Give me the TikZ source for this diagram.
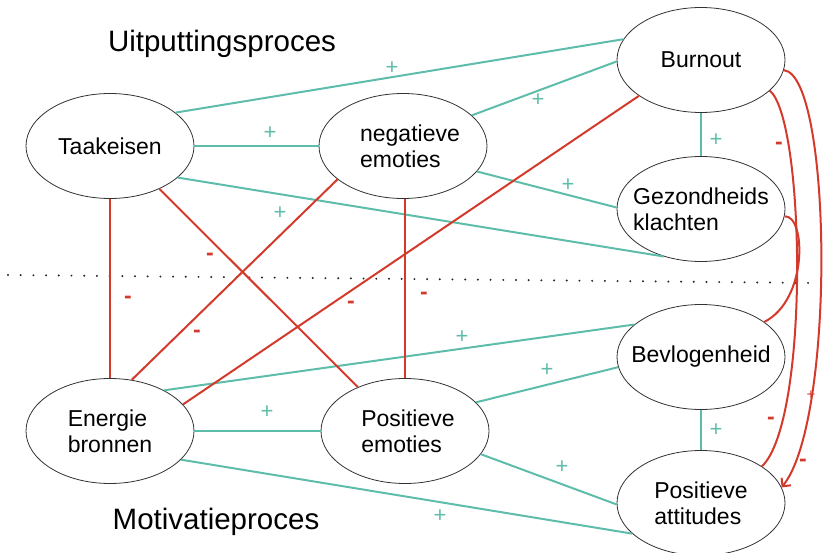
\documentclass[tikz,border=0pt]{standalone}
\usepackage{fontspec}
\setmainfont{Liberation Sans}
\usetikzlibrary{shapes.geometric,arrows.meta}
\definecolor{posgreen}{RGB}{93,189,170}
\definecolor{negred}{RGB}{211,58,44}
\tikzset{>=latex}
\tikzset{factor/.style={ellipse, draw=black!80, line width=0.8pt, minimum width=168pt, minimum height=105pt, inner xsep=-25pt, inner ysep=0pt, align=left, font=\fontsize{23}{26}\selectfont}}
\tikzset{posline/.style={draw=posgreen, line width=2pt}}
\tikzset{negline/.style={draw=negred, line width=2pt}}
\tikzset{poslab/.style={text=posgreen, inner sep=0pt, font=\fontsize{22}{22}\selectfont}}
\tikzset{neglab/.style={text=negred, inner sep=0pt, font=\bfseries\fontsize{23}{23}\selectfont}}
\tikzset{title/.style={inner sep=0pt, font=\fontsize{29.5}{32}\selectfont}}

\begin{document}
\begin{tikzpicture}[x=1pt,y=-1pt]
      \useasboundingbox (0,0) rectangle (824,553);
      % dividing line
      \coordinate (d1) at (8,275);
      \coordinate (d2) at (815,283);
      \draw[black!85, line width=2.2pt, line cap=round, dash pattern=on 0pt off 12.7pt] (d1) -- (d2);
      \node[title] (up) at (222,44) {Uitputtingsproces};
      \node[title] (mp) at (216,522) {Motivatieproces};
      \node[factor] (tk) at (110,146) {Taakeisen};
      \node[factor] (ne) at (403,146) {\hspace*{14pt}negatieve\\\hspace*{14pt}emoties};
      \node[factor] (bo) at (701,60) {Burnout};
      \node[factor] (gk) at (701,209) {Gezondheids\\klachten};
      \node[factor] (bv) at (701,357) {Bevlogenheid};
      \node[factor] (pa) at (701,503) {Positieve\\attitudes};
      \node[factor] (eb) at (110,431) {Energie\\bronnen};
      \node[factor] (pe) at (405,431) {\hspace*{6pt}Positieve\\\hspace*{6pt}emoties};
      % positive paths
      \draw[posline] (tk.27) -- (bo.165);
      \draw[posline] (tk.0) -- (ne.180);
      \draw[posline] (tk.-25) -- (gk.232);
      \draw[posline] (ne.24) -- (bo.181);
      \draw[posline] (ne.-19) -- (gk.179);
      \draw[posline] (bo) -- (gk);
      \draw[posline] (eb.37) -- (bv.154);
      \draw[posline] (pe.22) -- (bv.187);
      \draw[posline] (eb.0) -- (pe.180);
      \draw[posline] (bv) -- (pa);
      \draw[posline] (pe.-17) -- (pa.181);
      \draw[posline] (eb.-22) -- (pa.204);
      % negative paths
      \node[neglab, font=\fontsize{15}{15}\selectfont] (n0) at (811,395) {+};
      \draw[negline] (tk) -- (eb);
      \draw[negline] (tk.-41) -- (pe.137);
      \draw[negline] (ne.207) -- (eb.67);
      \draw[negline] (ne.south -| pe) -- (pe);
      \draw[negline] (bo.210) -- (eb.20);
      \draw[negline, -{Straight Barb[length=6pt]}] (bo.-7) .. controls (832,75) and (836,420) .. (pa.11);
      \draw[negline] (bo.-24) .. controls (805,120) and (810,420) .. (pa.31);
      \draw[negline] (gk.-5) .. controls (806,215) and (808,300) .. (bv.29);
      % signs
      \node[poslab] (p1) at (392,68) {+};
      \node[poslab] (p2) at (270,133) {+};
      \node[poslab] (p3) at (280,213) {+};
      \node[poslab] (p4) at (538,100) {+};
      \node[poslab] (p5) at (568,185) {+};
      \node[poslab] (p6) at (716,140) {+};
      \node[poslab] (p7) at (462,337) {+};
      \node[poslab] (p8) at (547,370) {+};
      \node[poslab] (p9) at (267,412) {+};
      \node[poslab] (p10) at (716,430) {+};
      \node[poslab] (p11) at (562,467) {+};
      \node[poslab] (p12) at (440,516) {+};
      \node[neglab] (m1) at (128,300) {-};
      \node[neglab] (m2) at (210,257) {-};
      \node[neglab] (m3) at (197,334) {-};
      \node[neglab] (m4) at (351,305) {-};
      \node[neglab] (m5) at (424,296) {-};
      \node[neglab] (m6) at (779,146) {-};
      \node[neglab] (m7) at (771,421) {-};
      \node[neglab] (m8) at (803,463) {-};
    \end{tikzpicture}
\end{document}
